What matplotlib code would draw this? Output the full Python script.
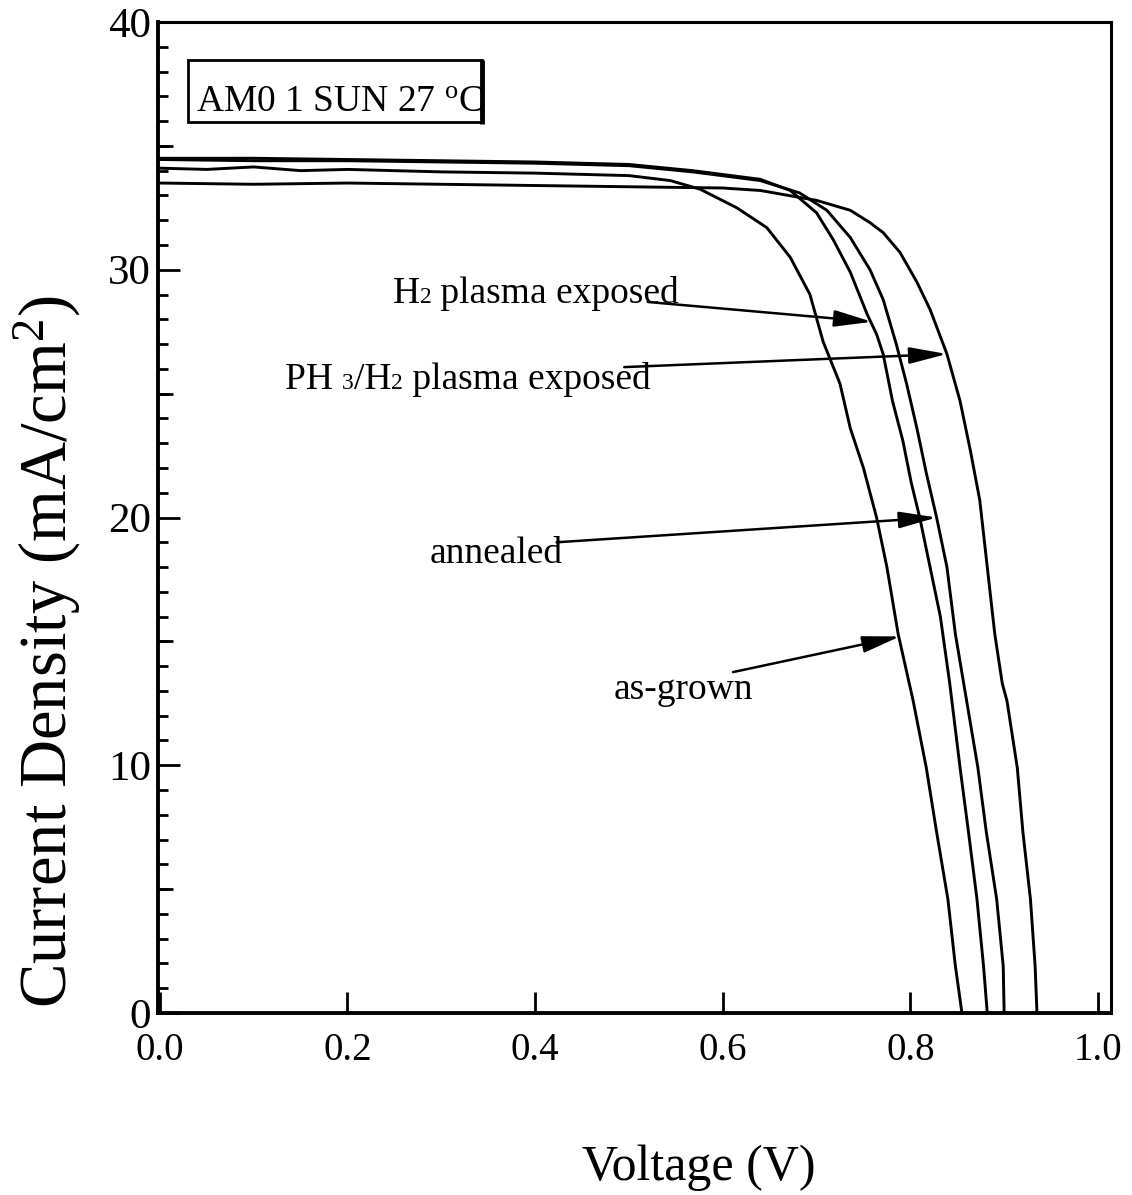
import matplotlib
matplotlib.use("Agg")
import matplotlib.pyplot as plt
from matplotlib.offsetbox import TextArea, HPacker, AnnotationBbox
from matplotlib.patches import Rectangle
from matplotlib.ticker import MultipleLocator, FixedLocator

plt.rcParams["font.family"] = ["Liberation Serif", "DejaVu Serif"]
plt.rcParams["mathtext.fontset"] = "custom"
plt.rcParams["mathtext.rm"] = "Liberation Serif"
plt.rcParams["mathtext.it"] = "Liberation Serif:italic"

# J-V curves (V in volts, J in mA/cm2)
v_asgrown = [0, 0.05, 0.1, 0.15, 0.2, 0.3, 0.4, 0.45, 0.5, 0.544, 0.576, 0.615, 0.647,
             0.672, 0.693, 0.707, 0.725, 0.736, 0.75, 0.764, 0.775, 0.787, 0.803, 0.817,
             0.828, 0.84, 0.848, 0.855]
j_asgrown = [34.1, 34.05, 34.15, 34.0, 34.05, 33.95, 33.9, 33.85, 33.8, 33.6, 33.25, 32.5, 31.7,
             30.5, 29.0, 27.1, 25.4, 23.6, 22.0, 20.0, 18.0, 15.3, 12.6, 9.9,
             7.3, 4.6, 1.9, 0.0]

v_h2 = [0, 0.1, 0.2, 0.3, 0.4, 0.5, 0.568, 0.64, 0.672, 0.70, 0.718, 0.736, 0.754, 0.764,
        0.771, 0.781, 0.792, 0.801, 0.81, 0.821, 0.832, 0.842, 0.853, 0.862, 0.871, 0.878, 0.882]
j_h2 = [34.5, 34.5, 34.45, 34.4, 34.35, 34.25, 34.0, 33.65, 33.2, 32.3, 31.2, 29.9, 28.2, 27.4,
        26.6, 24.7, 23.1, 21.4, 20.0, 18.0, 16.0, 13.3, 9.9, 7.3, 4.6, 1.9, 0.0]

v_annealed = [0, 0.1, 0.2, 0.3, 0.4, 0.5, 0.568, 0.64, 0.682, 0.711, 0.736, 0.757, 0.771, 0.785,
              0.796, 0.807, 0.817, 0.828, 0.839, 0.848, 0.86, 0.872, 0.881, 0.892, 0.899, 0.90]
j_annealed = [34.45, 34.4, 34.4, 34.35, 34.3, 34.2, 33.95, 33.6, 33.1, 32.4, 31.3, 30.0, 28.8, 27.0,
              25.4, 23.6, 21.8, 20.0, 18.0, 15.3, 12.6, 9.9, 7.3, 4.6, 1.9, 0.0]

v_ph3 = [0, 0.1, 0.2, 0.3, 0.4, 0.5, 0.6, 0.64, 0.70, 0.736, 0.757, 0.771, 0.789, 0.807, 0.821,
         0.839, 0.853, 0.864, 0.874, 0.882, 0.89, 0.898, 0.903, 0.914, 0.92, 0.928, 0.933, 0.935]
j_ph3 = [33.5, 33.45, 33.5, 33.45, 33.4, 33.35, 33.3, 33.2, 32.8, 32.4, 31.9, 31.5, 30.7, 29.5, 28.4,
         26.6, 24.7, 22.7, 20.7, 18.0, 15.3, 13.3, 12.6, 9.9, 7.3, 4.6, 1.9, 0.0]

x_ticks = [0.0, 0.2, 0.4, 0.6, 0.8, 1.0]
x_ticklabels = ["0.0", "0.2", "0.4", "0.6", "0.8", "1.0"]
y_ticks = [0, 10, 20, 30, 40]

# label pieces (text, small digit?), text anchor (V, J), arrow start, arrow tip
labels = [
    ([("H", False), ("2", True), (" plasma exposed", False)], (0.248, 28.35), (0.52, 28.7), (0.759, 27.9)),
    ([("PH ", False), ("3", True), ("/H", False), ("2", True), (" plasma exposed", False)],
     (0.133, 24.85), (0.495, 26.07), (0.839, 26.6)),
    ([("annealed", False)], (0.288, 17.85), (0.423, 19.0), (0.828, 20.0)),
    ([("as-grown", False)], (0.484, 12.35), (0.611, 13.76), (0.789, 15.2)),
]

fig = plt.figure(figsize=(11.32, 11.95), dpi=100)
ax = fig.add_axes([158 / 1132, 1 - 1013 / 1195, (1111 - 158) / 1132, (1013 - 22) / 1195])

for v, j in [(v_asgrown, j_asgrown), (v_h2, j_h2), (v_annealed, j_annealed), (v_ph3, j_ph3)]:
    ax.plot(v, j, color="black", lw=2.1, solid_joinstyle="round")

ax.set_xlim(-0.002, 1.0139)
ax.set_ylim(0, 40)

ax.xaxis.set_major_locator(FixedLocator(x_ticks))
ax.set_xticklabels(x_ticklabels)
ax.yaxis.set_major_locator(FixedLocator(y_ticks))
ax.yaxis.set_minor_locator(MultipleLocator(1))
ax.tick_params(axis="x", which="major", direction="in", length=15, width=2, labelsize=28,
               pad=14, top=False)
ax.tick_params(axis="y", which="major", direction="in", length=16, width=2, labelsize=31,
               pad=5, right=False)
ax.tick_params(axis="y", which="minor", direction="in", length=7, width=2, right=False)

sec = ax.secondary_yaxis("left")
sec.set_yticks([5, 15, 25, 35])
sec.set_yticklabels([])
sec.tick_params(direction="in", length=11, width=2)
sec.spines["left"].set_visible(False)

for s in ax.spines.values():
    s.set_linewidth(2.2)
ax.spines["left"].set_linewidth(2.8)
ax.spines["bottom"].set_linewidth(2.8)

# condition box
ax.add_patch(Rectangle((0.03, 35.96), 0.313, 2.5, fill=False, lw=2, ec="black", zorder=3))
ax.plot([0.343, 0.343], [35.9, 38.46], color="black", lw=3.5, solid_capstyle="butt")
ax.text(0.039, 36.36, r"AM0 1 SUN 27 $^{\mathrm{o}}$C", fontsize=27, va="baseline", ha="left")

for pieces, txy, start, tip in labels:
    areas = [TextArea(t, textprops=dict(size=17 if small else 27, family="Liberation Serif"))
             for t, small in pieces]
    pack = HPacker(children=areas, align="baseline", pad=0, sep=0)
    ab = AnnotationBbox(pack, txy, xycoords="data", box_alignment=(0, 0),
                        frameon=False, pad=0)
    ax.add_artist(ab)
    ax.annotate("", xy=tip, xytext=start,
                arrowprops=dict(arrowstyle="-|>,head_length=1.0,head_width=0.22",
                                mutation_scale=23, lw=1.8, color="black",
                                shrinkA=0, shrinkB=0))

fig.text(699 / 1132, 1 - 1168 / 1195, "Voltage (V)", fontsize=36, ha="center", va="center")
fig.text(47 / 1132, 1 - 652 / 1195, r"Current Density (mA/cm$^2$)", fontsize=48,
         ha="center", va="center", rotation=90)

fig.savefig("out.png", dpi=100)
